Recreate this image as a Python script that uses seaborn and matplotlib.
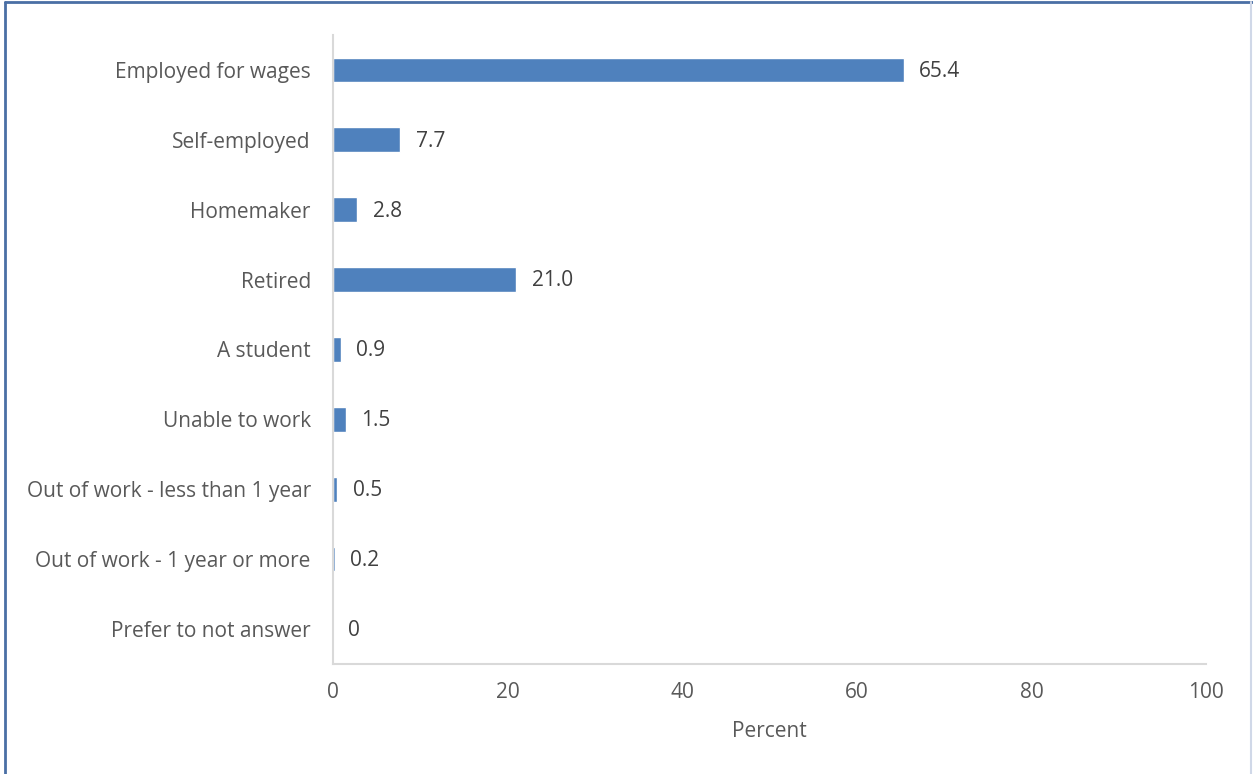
import matplotlib
matplotlib.use('Agg')
import matplotlib.pyplot as plt
import seaborn as sns
import pandas as pd
from matplotlib.lines import Line2D

categories = ['Employed for wages', 'Self-employed', 'Homemaker', 'Retired',
              'A student', 'Unable to work', 'Out of work - less than 1 year',
              'Out of work - 1 year or more', 'Prefer to not answer']
percent = [65.4, 7.7, 2.8, 21.0, 0.9, 1.5, 0.5, 0.2, 0]
value_labels = ['65.4', '7.7', '2.8', '21.0', '0.9', '1.5', '0.5', '0.2', '0']
x_ticks = [0, 20, 40, 60, 80, 100]

df = pd.DataFrame({'category': categories, 'percent': percent})

sns.set_style('white')
plt.rcParams['font.family'] = ['Open Sans', 'DejaVu Sans']
fs = 15

text_color = '#595959'
axis_color = '#D9D9D9'

fig = plt.figure(figsize=(12.53, 7.74), dpi=100)
ax = fig.add_axes([0.2658, 0.142, 0.6967, 0.813])

sns.barplot(data=df, x='percent', y='category', orient='h', color='#4F81BD',
            saturation=1, width=0.35, ax=ax)

for i, (v, lab) in enumerate(zip(percent, value_labels)):
    ax.annotate(lab, (v, i), xytext=(11, -1), textcoords='offset points',
                va='center', ha='left', color='#404040', fontsize=fs)

ax.set_xlim(0, 100)
ax.set_ylim(8.5, -0.5)
ax.set_xticks(x_ticks)
ax.set_xlabel('Percent', color=text_color, fontsize=fs, labelpad=13)
ax.set_ylabel('')
ax.tick_params(axis='x', colors=axis_color, labelcolor=text_color, direction='inout',
               length=10, width=1.5, pad=8, labelsize=fs)
ax.tick_params(axis='y', length=0, labelcolor=text_color, pad=16, labelsize=fs)

for side in ['top', 'right']:
    ax.spines[side].set_visible(False)
for side in ['left', 'bottom']:
    ax.spines[side].set_color(axis_color)
    ax.spines[side].set_linewidth(1.5)

# outer frame
fig.add_artist(Line2D([0.004, 0.004], [0, 0.998], transform=fig.transFigure,
                      color='#4A6FA5', lw=2))
fig.add_artist(Line2D([0.004, 1], [0.998, 0.998], transform=fig.transFigure,
                      color='#4A6FA5', lw=2))
fig.add_artist(Line2D([0.9985, 0.9985], [0, 0.998], transform=fig.transFigure,
                      color='#D0D8E8', lw=1.5))

fig.savefig('out.png', dpi=100)
